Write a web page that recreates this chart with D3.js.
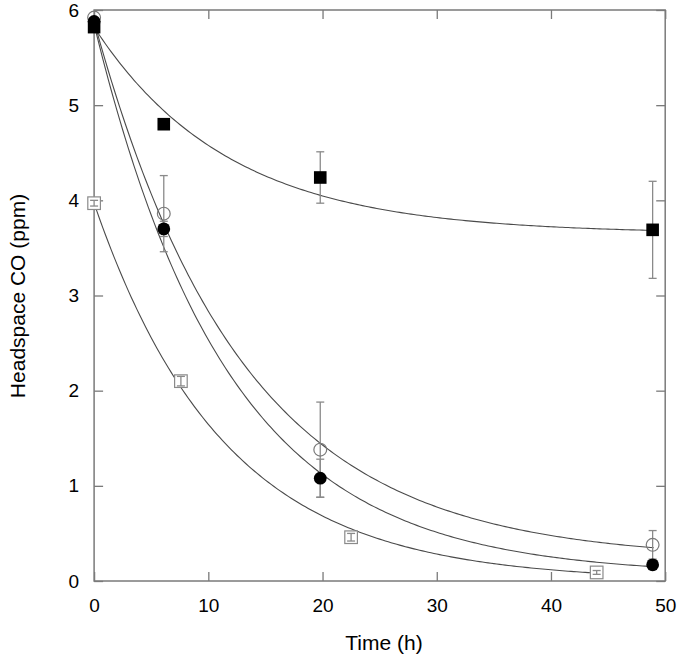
<!DOCTYPE html>
<html><head><meta charset="utf-8">
<script src="https://cdn.jsdelivr.net/npm/d3@7"></script>
<style>body{margin:0;background:#fff}svg{display:block}text{font-family:"Liberation Sans",Arial,sans-serif;fill:#000}</style>
</head><body><svg id="c" width="677" height="656"></svg>
<script>
const xTicks=[0,10,20,30,40,50];
const yTicks=[0,1,2,3,4,5,6];
// series: filled square, open circle, filled circle, open square
const sqFilledT=[0,6.1,19.8,48.9];
const sqFilledV=[5.82,4.80,4.24,3.69];
const sqFilledE=[0,0,0.27,0.51];
const circOpenT=[0,6.1,19.8,48.9];
const circOpenV=[5.92,3.86,1.38,0.38];
const circOpenE=[0,0.40,0.50,0.15];
const circFilledT=[0,6.1,19.8,48.9];
const circFilledV=[5.88,3.70,1.08,0.17];
const circFilledE=[0,0.08,0.20,0.05];
const sqOpenT=[0,7.6,22.5,44.0];
const sqOpenV=[3.97,2.10,0.46,0.09];
const sqOpenE=[0.03,0.05,0.04,0.02];
// fitted curves: y = c + (y0 - c) * exp(-k t)
const fitY0=[5.82,5.88,5.85,3.97];
const fitC=[3.65,0.22,0.06,0];
const fitK=[0.085,0.0772,0.085,0.088];
const fitEnd=[49,49,49,44];

const svg=d3.select("#c");
const x=d3.scaleLinear().domain([0,50]).range([94.1,665.2]);
const y=d3.scaleLinear().domain([0,6]).range([581,10]);
const axCol="#7a7a7a";
const g=svg.append("g");
const tl=9;
g.append("rect").attr("x",x(0)).attr("y",y(6)).attr("width",x(50)-x(0)).attr("height",y(0)-y(6))
 .attr("fill","none").attr("stroke",axCol).attr("stroke-width",1.5);
const fmt=d3.format("d");
const axB=d3.axisBottom(x).tickValues(xTicks).tickFormat(fmt).tickSizeInner(-tl).tickSizeOuter(0).tickPadding(18);
const axL=d3.axisLeft(y).tickValues(yTicks).tickFormat(fmt).tickSizeInner(-tl).tickSizeOuter(0).tickPadding(15);
const axT=d3.axisTop(x).tickValues(xTicks).tickSizeInner(-tl).tickSizeOuter(0).tickFormat("");
const axR=d3.axisRight(y).tickValues(yTicks).tickSizeInner(-tl).tickSizeOuter(0).tickFormat("");
function style(a){a.select(".domain").remove();a.selectAll(".tick line").attr("stroke",axCol).attr("stroke-width",1.3);
 a.selectAll("text").attr("font-size",19).attr("font-family","Liberation Sans, Arial, sans-serif").attr("fill","#000");}
g.append("g").attr("transform",`translate(0,${y(0)})`).call(axB).call(style);
g.append("g").attr("transform",`translate(${x(0)},0)`).call(axL).call(style);
g.append("g").attr("transform",`translate(0,${y(6)})`).call(axT).call(style);
g.append("g").attr("transform",`translate(${x(50)},0)`).call(axR).call(style);

svg.append("text").attr("x",384).attr("y",650).attr("text-anchor","middle").attr("font-size",21).text("Time (h)");
svg.append("text").attr("transform","translate(18,296) rotate(-90)").attr("text-anchor","middle").attr("dy","0.35em").attr("font-size",21).text("Headspace CO (ppm)");

const line=d3.line().x(d=>x(d[0])).y(d=>y(d[1]));
for(let i=0;i<4;i++){
  const pts=d3.range(0,fitEnd[i]+0.001,0.25).map(t=>[t,fitC[i]+(fitY0[i]-fitC[i])*Math.exp(-fitK[i]*t)]);
  svg.append("path").attr("d",line(pts)).attr("fill","none").attr("stroke","#4a4a4a").attr("stroke-width",1.1);
}
const ebCol="#8a8a8a";
function errs(T,V,E){
  T.forEach((t,i)=>{ if(!E[i])return;
    const cx=x(t),y1=y(V[i]-E[i]),y2=y(V[i]+E[i]);
    svg.append("line").attr("x1",cx).attr("x2",cx).attr("y1",y1).attr("y2",y2).attr("stroke",ebCol).attr("stroke-width",1.3);
    [y1,y2].forEach(yy=>svg.append("line").attr("x1",cx-4).attr("x2",cx+4).attr("y1",yy).attr("y2",yy).attr("stroke",ebCol).attr("stroke-width",1.3));
  });
}
const s=12.6,r=6.4;
sqOpenT.forEach((t,i)=>svg.append("rect").attr("x",x(t)-s/2).attr("y",y(sqOpenV[i])-s/2).attr("width",s).attr("height",s)
  .attr("fill","#fff").attr("stroke","#8a8a8a").attr("stroke-width",1.2));
errs(sqOpenT,sqOpenV,sqOpenE);
errs(sqFilledT,sqFilledV,sqFilledE);
errs(circOpenT,circOpenV,circOpenE);
errs(circFilledT,circFilledV,circFilledE);
circOpenT.forEach((t,i)=>svg.append("circle").attr("cx",x(t)).attr("cy",y(circOpenV[i])).attr("r",r)
  .attr("fill","none").attr("stroke","#7a7a7a").attr("stroke-width",1.2));
sqFilledT.forEach((t,i)=>svg.append("rect").attr("x",x(t)-s/2).attr("y",y(sqFilledV[i])-s/2).attr("width",s).attr("height",s).attr("fill","#000"));
circFilledT.forEach((t,i)=>svg.append("circle").attr("cx",x(t)).attr("cy",y(circFilledV[i])).attr("r",r).attr("fill","#000"));
</script></body></html>
